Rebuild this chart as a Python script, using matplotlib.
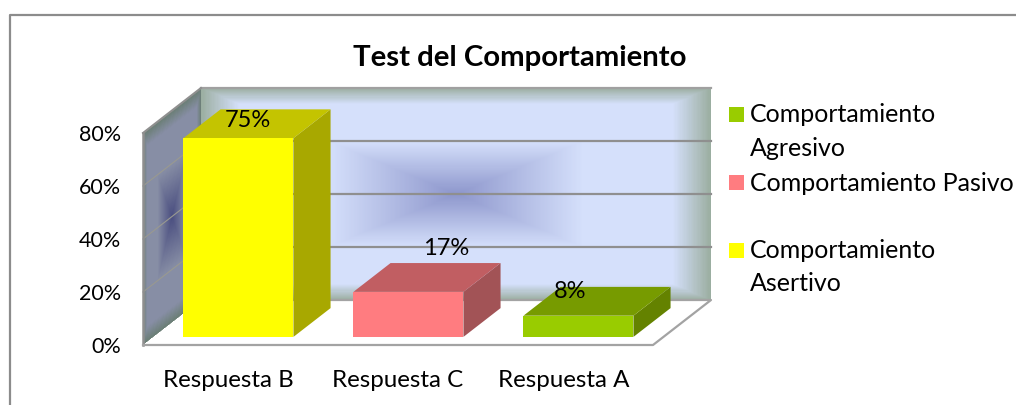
import matplotlib.pyplot as plt
import numpy as np
from matplotlib.lines import Line2D
from matplotlib.patches import Polygon, Rectangle
from matplotlib.transforms import ScaledTranslation

W, H = 1016, 405

CATEGORIES = ["Respuesta B", "Respuesta C", "Respuesta A"]
VALUES = [75, 17, 8]
Y_TICKS = [0, 20, 40, 60, 80]
Y_TICK_LABELS = ["0%", "20%", "40%", "60%", "80%"]
LEGEND_LABELS = ["Comportamiento\nAgresivo", "Comportamiento Pasivo", "Comportamiento\nAsertivo"]
TITLE = "Test del Comportamiento"

# front, top, side of each bar
BAR_COLORS = [("#ffff00", "#c4c400", "#a8a800"), ("#ff7c80", "#c15e62", "#a25356"), ("#99cc00", "#779b00", "#648200")]
LEGEND_COLORS = ["#99cc00", "#ff7c80", "#ffff00"]
# data labels sit by hand in the source, offset from bar top centre in pixels
LABEL_OFFSETS = [(9, -18), (38, -43), (-8, -24)]

GRID = "#8f8f8f"
FRAME = "#8c8c8c"
FONT = "Lato"

# depth of the box in data units
DX = 58 / 170
DY = 45 / 2.65
BAR_WIDTH = 110 / 170
BAR_D0 = 0.18
BAR_D1 = 0.82


def wall_colors(n, m, center, light, edge):
    # rectangular path gradient like the Office wall fill
    v = (np.arange(n) + 0.5) / n
    u = (np.arange(m) + 0.5) / m
    uu, vv = np.meshgrid(u, v)
    t = np.maximum(np.abs(2 * uu - 1), np.abs(2 * vv - 1))
    stops = [0, 0.5, 0.85, 1]
    rgb = [np.interp(t, stops, [center[i], light[i], light[i], edge[i]]) for i in range(3)]
    return np.dstack(rgb) / 255


def draw_wall(ax, shear, x0, width, colors):
    n, m = 200, 400
    u, v = np.meshgrid(np.linspace(0, 1, m + 1), np.linspace(0, 1, n + 1))
    x = x0 + u * width
    y = v * 80 + (u * DY if shear else DY)
    ax.pcolormesh(x, y, wall_colors(n, m, *colors), shading="flat", antialiased=False, zorder=1, clip_on=False)


fig = plt.figure(figsize=(W / 100, H / 100), dpi=100)
plt.rcParams["font.family"] = FONT
ax = fig.add_axes([143 / W, 1 - 345 / H, 510 / W, 212 / H])
ax.set_xlim(-0.5, 2.5)
ax.set_ylim(0, 80)
for s in ax.spines.values():
    s.set_visible(False)
ax.patch.set_visible(False)
ax.set_xticks(range(len(CATEGORIES)), CATEGORIES, fontsize=17.4, family=FONT)
ax.set_yticks(Y_TICKS, Y_TICK_LABELS, fontsize=15.5, family=FONT)
ax.tick_params(axis="both", length=0)
ax.tick_params(axis="y", pad=15.5)
ax.tick_params(axis="x", pad=18)
# last category label sits a little left in the source
lab = ax.get_xticklabels()[2]
lab.set_transform(lab.get_transform() + ScaledTranslation(-4 / 100, 0, fig.dpi_scale_trans))

# walls and floor
draw_wall(ax, True, -0.5, DX, ((74, 78, 128), (135, 142, 165), (105, 125, 115)))
draw_wall(ax, False, -0.5 + DX, 3, ((141, 150, 204), (213, 224, 251), (154, 173, 159)))
floor = [(-0.5, 0), (2.5, 0), (2.5 + DX, DY), (-0.5 + DX, DY)]
ax.add_patch(Polygon(floor, closed=True, fc="white", ec="none", zorder=2, clip_on=False))

for tick in Y_TICKS[1:-1]:
    ax.plot([-0.5 + DX, 2.5 + DX], [tick + DY, tick + DY], color=GRID, lw=1.6, zorder=3, clip_on=False)
    ax.plot([-0.5, -0.5 + DX], [tick, tick + DY], color="#999990", lw=0.8, zorder=3, clip_on=False)

# box outline
ax.plot([-0.5 + DX, 2.5 + DX], [80 + DY, 80 + DY], color="#a0a0a0", lw=1.6, zorder=3, clip_on=False)
ax.plot([-0.5, -0.5 + DX], [80, 80 + DY], color=GRID, lw=1.5, zorder=3, clip_on=False)
ax.plot([-0.5, -0.5], [0, 80], color=GRID, lw=1.8, zorder=3, clip_on=False)
ax.plot([-0.5, 2.5, 2.5 + DX, -0.5 + DX], [0, 0, DY, DY], color="#a3a3a3", lw=1.6, zorder=3, clip_on=False)

# bars
for i, val in enumerate(VALUES):
    front, top, side = BAR_COLORS[i]
    left = i - BAR_WIDTH / 2
    right = left + BAR_WIDTH
    d0x, d0y = BAR_D0 * DX, BAR_D0 * DY
    d1x, d1y = BAR_D1 * DX, BAR_D1 * DY
    ax.add_patch(Polygon([(right + d0x, d0y), (right + d1x, d1y), (right + d1x, val + d1y), (right + d0x, val + d0y)],
                         closed=True, fc=side, ec="none", zorder=4, clip_on=False))
    ax.add_patch(Polygon([(left + d0x, val + d0y), (right + d0x, val + d0y), (right + d1x, val + d1y), (left + d1x, val + d1y)],
                         closed=True, fc=top, ec="none", zorder=4, clip_on=False))
    ax.add_patch(Rectangle((left + d0x, d0y), BAR_WIDTH, val, fc=front, ec="none", zorder=5, clip_on=False))
    off = LABEL_OFFSETS[i]
    ax.annotate(f"{val}%", xy=(i + d0x, val + d0y), xytext=(off[0] * 0.72, -off[1] * 0.72), textcoords="offset points",
                ha="center", va="center", fontsize=17, family=FONT, color="black", zorder=6, annotation_clip=False)

# title, legend and frame go in figure pixels
fig.text(520 / W, 1 - 58 / H, TITLE, ha="center", va="center", fontsize=21.2, fontweight="bold", family=FONT)

for color, label, y_sq, y_txt in zip(LEGEND_COLORS, LEGEND_LABELS, [114.5, 182.5, 250.5], [131.5, 183.5, 267]):
    fig.add_artist(Rectangle((729 / W, 1 - (y_sq + 7.5) / H), 15 / W, 15 / H, fc=color, ec="none", transform=fig.transFigure))
    fig.text(750 / W, 1 - y_txt / H, label, ha="left", va="center", fontsize=18, family=FONT, linespacing=1.57)

fig.add_artist(Line2D([10 / W, 10 / W, 1], [0, 1 - 15 / H, 1 - 15 / H], color=FRAME, lw=1.6, transform=fig.transFigure))

fig.savefig("out.png", dpi=100)
